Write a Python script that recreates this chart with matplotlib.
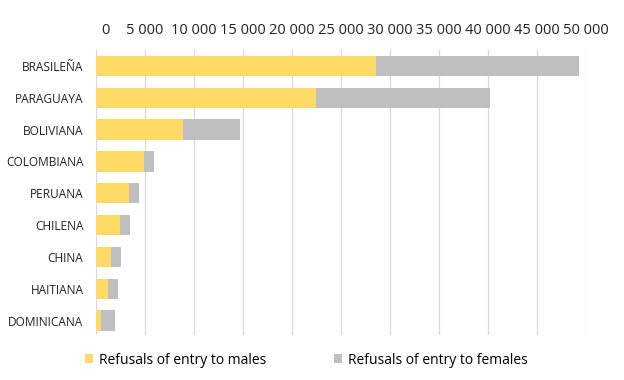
import matplotlib
matplotlib.use("Agg")
import matplotlib.pyplot as plt
import matplotlib.transforms as mtransforms
from matplotlib.ticker import FuncFormatter

categories = ["BRASILEÑA", "PARAGUAYA", "BOLIVIANA", "COLOMBIANA", "PERUANA",
              "CHILENA", "CHINA", "HAITIANA", "DOMINICANA"]
males = [28600, 22400, 8900, 4850, 3400, 2400, 1500, 1250, 550]
females = [20700, 17800, 5800, 1050, 1000, 1100, 1000, 950, 1420]
xticks = list(range(0, 50001, 5000))

plt.rcParams['font.family'] = ['Open Sans', 'DejaVu Sans']

fig = plt.figure(figsize=(6.24, 3.8), dpi=100)
ax = fig.add_axes([96/624, 1-335/380, 490/624, 285/380])

y = list(range(len(categories)))
yellow = "#FFD966"
gray = "#BFBFBF"
ax.barh(y, males, height=0.64, color=yellow, label="Refusals of entry to males", zorder=3)
ax.barh(y, females, left=males, height=0.64, color=gray, label="Refusals of entry to females", zorder=3)

ax.set_xlim(0, 50000)
ax.set_ylim(8.45, -0.5)
ax.set_xticks(xticks)
ax.xaxis.set_major_formatter(FuncFormatter(lambda v, p: f"{int(v):,}".replace(",", " ")))
ax.xaxis.tick_top()
ax.tick_params(axis='x', length=0, labelsize=10.5, pad=9, colors="#222222")
ax.set_yticks(y)
ax.set_yticklabels(categories)
ax.tick_params(axis='y', length=0, labelsize=8.6, pad=9, colors="#222222")
ax.grid(axis='x', color="#D9D9D9", linewidth=0.9, zorder=0)
for s in ax.spines.values():
    s.set_visible(False)

# the "0" label in the reference sits slightly right of its gridline
fig.canvas.draw()
lbl0 = ax.get_xticklabels()[0]
lbl0.set_transform(lbl0.get_transform() + mtransforms.ScaledTranslation(9/100, 0, fig.dpi_scale_trans))

handles, labels = ax.get_legend_handles_labels()
fig.legend(handles, labels, loc='center', bbox_to_anchor=(0.491, 1-360/380), ncol=2,
           frameon=False, fontsize=10, handlelength=0.6, handleheight=0.6,
           handletextpad=0.4, columnspacing=4.9)

fig.savefig("out.png", dpi=100)
